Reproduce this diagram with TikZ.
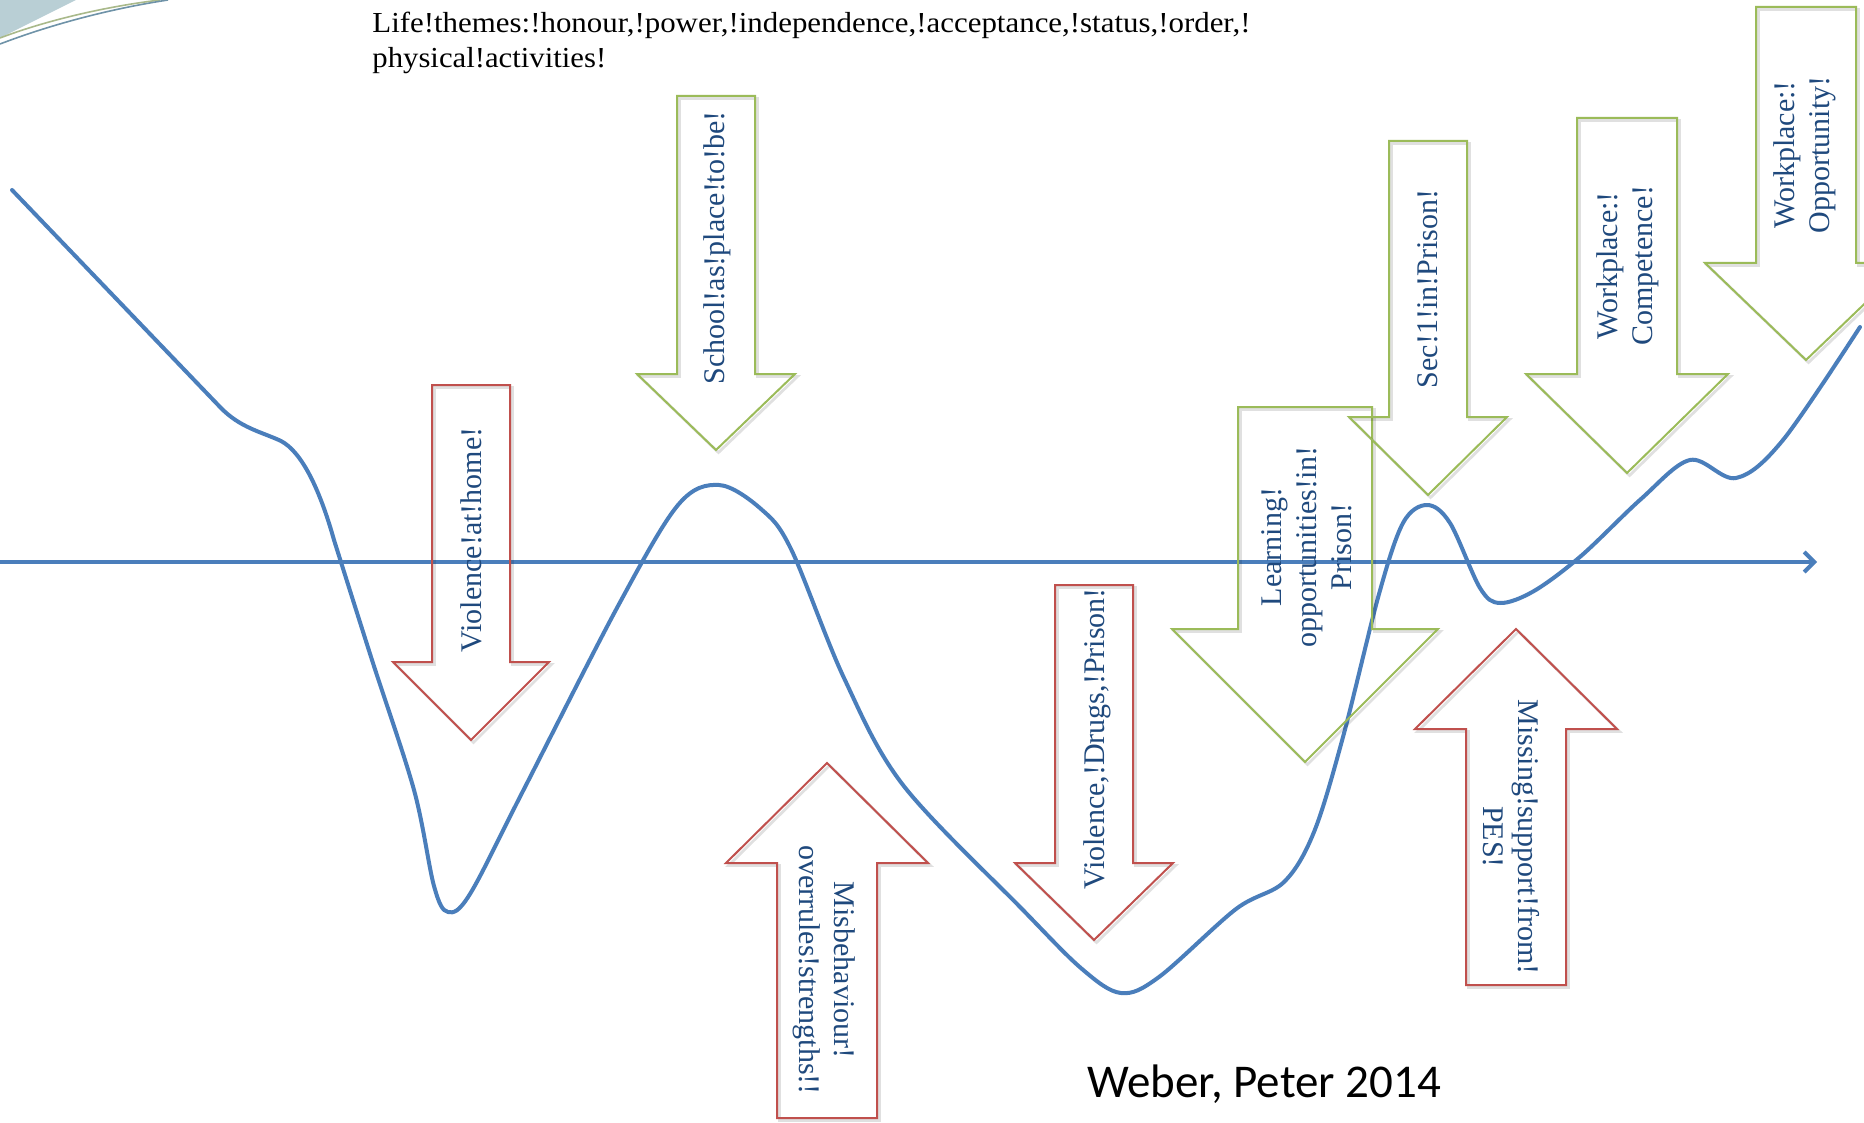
\documentclass[tikz,border=0pt]{standalone}
\usepackage{fontspec}
\setmainfont{Liberation Serif}
\newfontfamily\creditfont{Carlito}
\usetikzlibrary{arrows.meta}

\definecolor{curveblue}{HTML}{4A7EBB}
\definecolor{arrred}{HTML}{C0504D}
\definecolor{arrgreen}{HTML}{9BBB59}
\definecolor{labelblue}{HTML}{1F497D}
\definecolor{swooshfill}{HTML}{B9CFD5}
\definecolor{swooshgreen}{HTML}{A9B98A}
\definecolor{swooshblue}{HTML}{6F93A8}

% block arrow with a soft offset shadow:
% style, centre x, tail y, half shaft, head base y, half head, tip y
\newcommand{\blockarrow}[7]{%
  \draw[arrowshadow] ({#2-#4+2.5},{#3+2.5}) -- ({#2+#4+2.5},{#3+2.5}) -- ({#2+#4+2.5},{#5+2.5})
    -- ({#2+#6+2.5},{#5+2.5}) -- ({#2+2.5},{#7+2.5}) -- ({#2-#6+2.5},{#5+2.5})
    -- ({#2-#4+2.5},{#5+2.5}) -- cycle;
  \draw[#1] ({#2-#4},#3) -- ({#2+#4},#3) -- ({#2+#4},#5) -- ({#2+#6},#5)
    -- (#2,#7) -- ({#2-#6},#5) -- ({#2-#4},#5) -- cycle;}

\tikzset{
  arrowshadow/.style={draw=black, draw opacity=0.12, line width=1.4pt, line join=miter},
  redarrow/.style={draw=arrred, line width=1pt, line join=miter},
  greenarrow/.style={draw=arrgreen, line width=1pt, line join=miter},
  lifeline/.style={draw=curveblue, line width=2pt, line cap=round, line join=round},
  axisline/.style={draw=curveblue, line width=2pt, -{Straight Barb[length=5pt,width=10pt]}},
  label/.style={text=labelblue, font=\fontsize{15}{17.5}\selectfont, align=center, inner sep=0pt},
  toptext/.style={text=black, font=\fontsize{14.5}{17.5}\selectfont, inner sep=0pt, anchor=base west},
}

\begin{document}
\begin{tikzpicture}[x=0.5pt, y=-0.5pt]
\path[use as bounding box] (0,0) rectangle (1864,1123);
\clip (0,0) rectangle (1864,1123);
\fill[white] (0,0) rectangle (1864,1123);

% corner ornament
\fill[swooshfill] (0,0) -- (76,0) -- (0,38) -- cycle;
\draw[swooshgreen, line width=0.8pt] (0,38) .. controls (50,19) and (110,6) .. (160,0);
\draw[swooshblue, line width=0.8pt] (0,44) .. controls (55,23) and (115,8) .. (168,0);

% heading lines
\node[toptext] (themes) at (372,33)
  {\resizebox{439pt}{\height}{Life!themes:!honour,!power,!independence,!acceptance,!status,!order,!}};
\node[toptext] (activities) at (372,68)
  {\scalebox{1.06}[1]{physical!activities!}};

% time axis
\coordinate (axisstart) at (0,562);
\coordinate (axisend) at (1817,562);
\draw[axisline] (axisstart) -- (axisend);

% life course curve: straight descent, shoulder, then smooth waves
\draw[lifeline] (12,190) -- (220,407)
  .. controls (240,428) and (262,432) .. (281,441)
  .. controls (302,452) and (320,490) .. (334,540)
  -- plot[smooth, tension=0.55] coordinates {
  (334,540) (372,660)
  (414,790) (434,886) (448,912) (470,894) (523,791) (618,606) (678,505)
  (719,485) (761,509) (791,549) (844,678) (903,785) (1022,909) (1082,969)
  (1121,993) (1159,977) (1236,909) (1284,882) (1314,832) (1343,737)
  (1379,594) (1403,523) (1427,505) (1450,523) (1480,588) (1500,603)
  (1534,591) (1581,556) (1641,499) (1690,460) (1736,478) (1783,440) (1860,327)};

% block arrows
\blockarrow{redarrow}{471}{385}{39}{662}{78}{740}
\blockarrow{greenarrow}{716}{96}{39}{374}{79}{450}
\blockarrow{redarrow}{827}{1118}{50}{863}{101}{763}
\blockarrow{redarrow}{1094}{585}{39}{863}{79}{940}
\blockarrow{greenarrow}{1305}{407}{67}{629}{133}{762}
\blockarrow{greenarrow}{1428}{141}{39}{417}{79}{495}
\blockarrow{redarrow}{1516}{985}{50}{729}{101}{629}
\blockarrow{greenarrow}{1627}{118}{50}{374}{101}{473}
\blockarrow{greenarrow}{1806}{7}{50}{263}{101}{360}

% arrow labels
\node[label, rotate=90] (home) at (471,540) {Violence!at!home!};
\node[label, rotate=90] (school) at (717,248) {School!as!place!to!be!};
\node[label, rotate=-90] (misbehaviour) at (824,970) {Misbehaviour!\\overrules!strengths!!};
\node[label, rotate=90] (drugs) at (1097,739) {Violence,!Drugs,!Prison!};
\node[label, rotate=90] (learning) at (1307,547) {Learning!\\opportunities!in!\\Prison!};
\node[label, rotate=90] (sec) at (1428,289) {Sec!1!in!Prison!};
\node[label, rotate=-90] (pes) at (1511,837) {Missing!support!from!\\PES!};
\node[label, rotate=90] (competence) at (1628,266) {Workplace:!\\Competence!};
\node[label, rotate=90] (opportunity) at (1805,155) {Workplace:!\\Opportunity!};

% credit
\node[font=\creditfont\fontsize{23.5}{28}\selectfont, inner sep=0pt] (credit) at (1264,1084) {Weber, Peter 2014};
\end{tikzpicture}
\end{document}
